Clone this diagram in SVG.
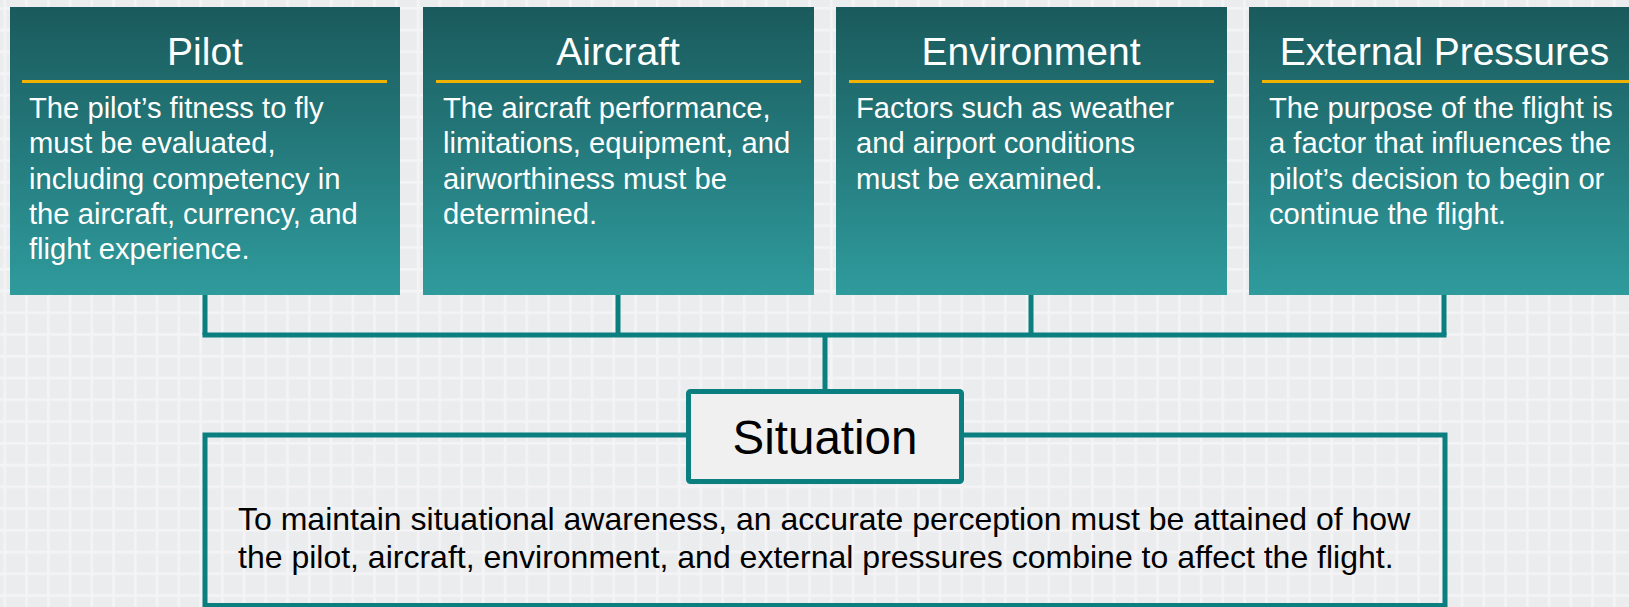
<svg xmlns="http://www.w3.org/2000/svg" width="1629" height="607" viewBox="0 0 1629 607">
  <defs>
    <pattern id="grid" x="3.5" y="7" width="21.75" height="21.75" patternUnits="userSpaceOnUse">
      <rect width="21.75" height="21.75" fill="#ebecee"/>
      <rect x="0" y="0" width="2.6" height="21.75" fill="#f4f4f6"/>
      <rect x="0" y="0" width="21.75" height="2.6" fill="#f4f4f6"/>
    </pattern>
    <linearGradient id="teal" x1="0" y1="0" x2="0" y2="1">
      <stop offset="0" stop-color="#1a5a5c"/>
      <stop offset="1" stop-color="#2f9b9d"/>
    </linearGradient>
    <style>
      .card { fill: url(#teal); }
      .rule { stroke: #f2b300; stroke-width: 3; }
      .title { font-family: "Liberation Sans", Arial, sans-serif; font-size: 39px; fill: #ffffff; text-anchor: middle; }
      .body { font-family: "Liberation Sans", Arial, sans-serif; font-size: 29.2px; fill: #ffffff; }
      .wire { fill: none; stroke: #0b7f80; stroke-width: 5; }
      .frame { fill: none; stroke: #0b7f80; stroke-width: 5; }
      .label { fill: #f0f0f0; stroke: #0b7f80; stroke-width: 5; }
      .head { font-family: "Liberation Sans", Arial, sans-serif; font-size: 47.5px; fill: #000000; text-anchor: middle; }
      .note { font-family: "Liberation Sans", Arial, sans-serif; font-size: 32px; fill: #000000; }
    </style>
  </defs>

  <!-- slide background -->
  <rect width="1629" height="607" fill="url(#grid)"/>

  <!-- connectors -->
  <g id="connectors">
    <path class="wire" d="M205,295 V335 M618,295 V335 M1031,295 V335 M1444,295 V335"/>
    <path class="wire" d="M202.5,335 H1446.5"/>
    <path class="wire" d="M825,335 V391"/>
  </g>

  <!-- factor cards -->
  <g id="pilot">
    <rect class="card" x="10" y="7" width="390" height="288"/>
    <text class="title" x="205" y="65">Pilot</text>
    <line class="rule" x1="22" y1="81.5" x2="387" y2="81.5"/>
    <text class="body">
      <tspan x="29" y="118">The pilot’s fitness to fly</tspan>
      <tspan x="29" y="153">must be evaluated,</tspan>
      <tspan x="29" y="188.5">including competency in</tspan>
      <tspan x="29" y="224">the aircraft, currency, and</tspan>
      <tspan x="29" y="259">flight experience.</tspan>
    </text>
  </g>

  <g id="aircraft">
    <rect class="card" x="423" y="7" width="391" height="288"/>
    <text class="title" x="618" y="65">Aircraft</text>
    <line class="rule" x1="436" y1="81.5" x2="801" y2="81.5"/>
    <text class="body">
      <tspan x="443" y="118">The aircraft performance,</tspan>
      <tspan x="443" y="153">limitations, equipment, and</tspan>
      <tspan x="443" y="188.5">airworthiness must be</tspan>
      <tspan x="443" y="224">determined.</tspan>
    </text>
  </g>

  <g id="environment">
    <rect class="card" x="836" y="7" width="391" height="288"/>
    <text class="title" x="1031" y="65">Environment</text>
    <line class="rule" x1="849" y1="81.5" x2="1214" y2="81.5"/>
    <text class="body">
      <tspan x="856" y="118">Factors such as weather</tspan>
      <tspan x="856" y="153">and airport conditions</tspan>
      <tspan x="856" y="188.5">must be examined.</tspan>
    </text>
  </g>

  <g id="external-pressures">
    <rect class="card" x="1249" y="7" width="391" height="288"/>
    <text class="title" x="1444.5" y="65">External Pressures</text>
    <line class="rule" x1="1262" y1="81.5" x2="1629" y2="81.5"/>
    <text class="body">
      <tspan x="1269" y="118">The purpose of the flight is</tspan>
      <tspan x="1269" y="153">a factor that influences the</tspan>
      <tspan x="1269" y="188.5">pilot’s decision to begin or</tspan>
      <tspan x="1269" y="224">continue the flight.</tspan>
    </text>
  </g>

  <!-- summary frame with its heading tab -->
  <g id="situation-summary">
    <rect class="frame" x="205" y="435" width="1240" height="170.5"/>
    <text class="note">
      <tspan x="238" y="530">To maintain situational awareness, an accurate perception must be attained of how</tspan>
      <tspan x="238" y="568">the pilot, aircraft, environment, and external pressures combine to affect the flight.</tspan>
    </text>
  </g>

  <g id="situation">
    <rect class="label" x="688.5" y="391.5" width="273" height="90" rx="2"/>
    <text class="head" x="825" y="454">Situation</text>
  </g>
</svg>
